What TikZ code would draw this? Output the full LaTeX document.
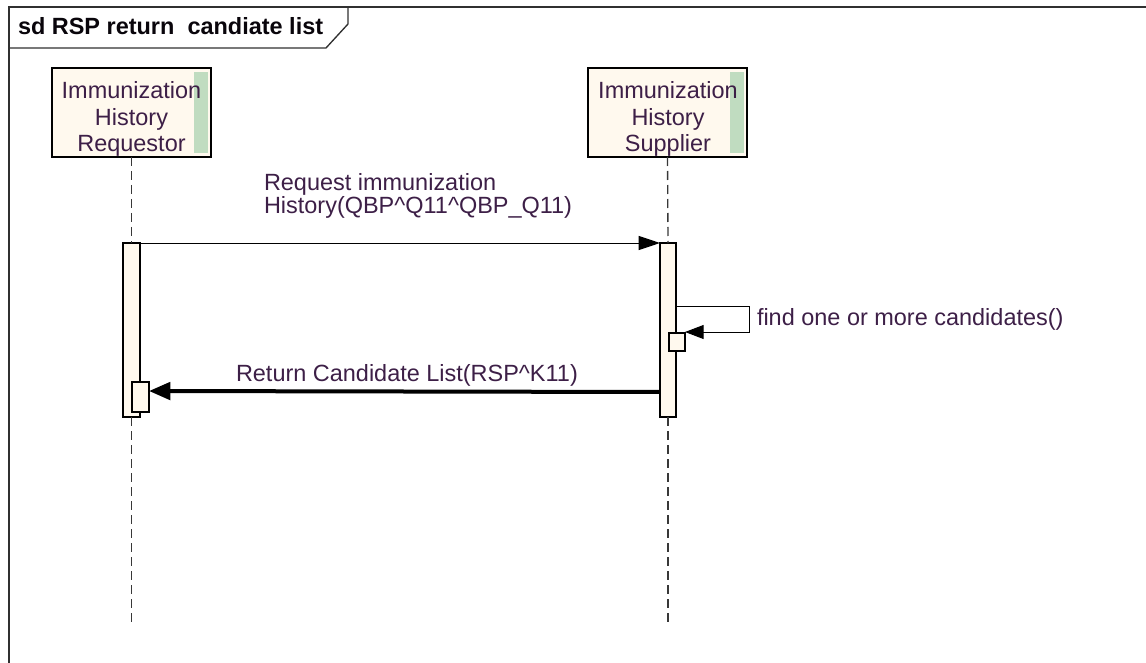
\documentclass[tikz,border=0pt]{standalone}
\usepackage{fontspec}
\setmainfont{Liberation Sans}
\usetikzlibrary{arrows.meta,calc}
\definecolor{txt}{HTML}{3D1F47}
\definecolor{cream}{HTML}{FFF9EE}
\definecolor{stripg}{HTML}{C0DCC0}
\definecolor{lifeg}{HTML}{383838}
\definecolor{framec}{HTML}{303030}
\begin{document}
\begin{tikzpicture}[x=0.75pt,y=-0.75pt,
  lbl/.style={font=\fontsize{17.6}{17.25}\selectfont, text=txt, inner sep=0pt, outer sep=0pt},
  head/.style={draw=black, line width=1.1pt, fill=cream, minimum width=119.25pt,
    minimum height=66.75pt, inner sep=0pt, outer sep=0pt, anchor=north west,
    path picture={\fill[stripg] ([xshift=-2.25pt,yshift=-3pt]path picture bounding box.north east)
      rectangle ([xshift=-12.75pt,yshift=3pt]path picture bounding box.south east);}},
  headtext/.style={align=center, text=txt, inner sep=0pt, font=\fontsize{17.6}{19.9}\selectfont},
  bar/.style={draw=black, line width=0.8pt, fill=cream, inner sep=0pt, outer sep=0pt, anchor=north west},
  life/.style={draw=lifeg, line width=1pt, dash pattern=on 6.75pt off 3.75pt},
  msg/.style={draw=black, line width=0.75pt, -{Triangle[length=16pt,width=10.5pt]}},
  thickmsg/.style={draw=black, line width=3pt, -{Triangle[length=16pt,width=13pt]}},
  selfmsg/.style={draw=black, line width=0.75pt, -{Triangle[length=14pt,width=10.5pt]}}
]
\useasboundingbox (0,0) rectangle (1146,663);
% frame
\draw[framec, line width=1.5pt] (1146,7) -- (9,7) -- (9,663);
\draw[framec, line width=1pt] (9,48) -- (326,48) -- (348,24) -- (348,7);
\node[lbl, font=\fontsize{17.6}{20}\selectfont\bfseries, text=black!85!txt, anchor=base west] (title) at (18,35)
  {sd RSP return\ \ candiate list};
% lifeline heads
\node[head] (reqhead) at (52,68) {};
\node[headtext] (reqname) at (131.5,119) {Immunization\\History\\Requestor};
\node[head] (suphead) at (588,68) {};
\node[headtext] (supname) at (668,119) {Immunization\\History\\Supplier};
% activation bars
\node[bar, minimum width=12.75pt, minimum height=130.5pt] (reqact) at (123,243) {};
\node[bar, minimum width=12pt, minimum height=130.5pt] (supact) at (660,243) {};
\node[bar, minimum width=12.75pt, minimum height=22.5pt] (reqsmall) at (132,382) {};
\node[bar, minimum width=12pt, minimum height=13.5pt] (supsmall) at (669,333) {};
% lifelines
\coordinate (reqend) at (131.5,623);
\coordinate (supend) at (668,623);
\draw[life] (reqhead.south) -- (reqact.north);
\draw[life] (reqact.south) -- (reqend);
\draw[life] (suphead.south) -- (supact.north);
\draw[life] (supact.south) -- (supend);
% messages
\draw[msg] (reqact.north east) -- (supact.north west);
\node[lbl, anchor=north west, align=left] (m1) at (264,173)
  {Request immunization\\History(QBP\textasciicircum Q11\textasciicircum QBP\_Q11)};
\coordinate (selfa) at (749,306);
\coordinate (selfb) at (749,332);
\draw[selfmsg] (supact.east |- selfa) -- (selfa) -- (selfb) -- (supsmall.east |- selfb);
\node[lbl, anchor=base west] (m2) at (757,325) {find one or more candidates()};
\draw[thickmsg] ([yshift=-111.75pt]supact.north west) -- ([yshift=-6.75pt]reqsmall.north east);
\node[lbl, anchor=base west] (m3) at (236,381) {Return Candidate List(RSP\textasciicircum K11)};
\end{tikzpicture}
\end{document}
